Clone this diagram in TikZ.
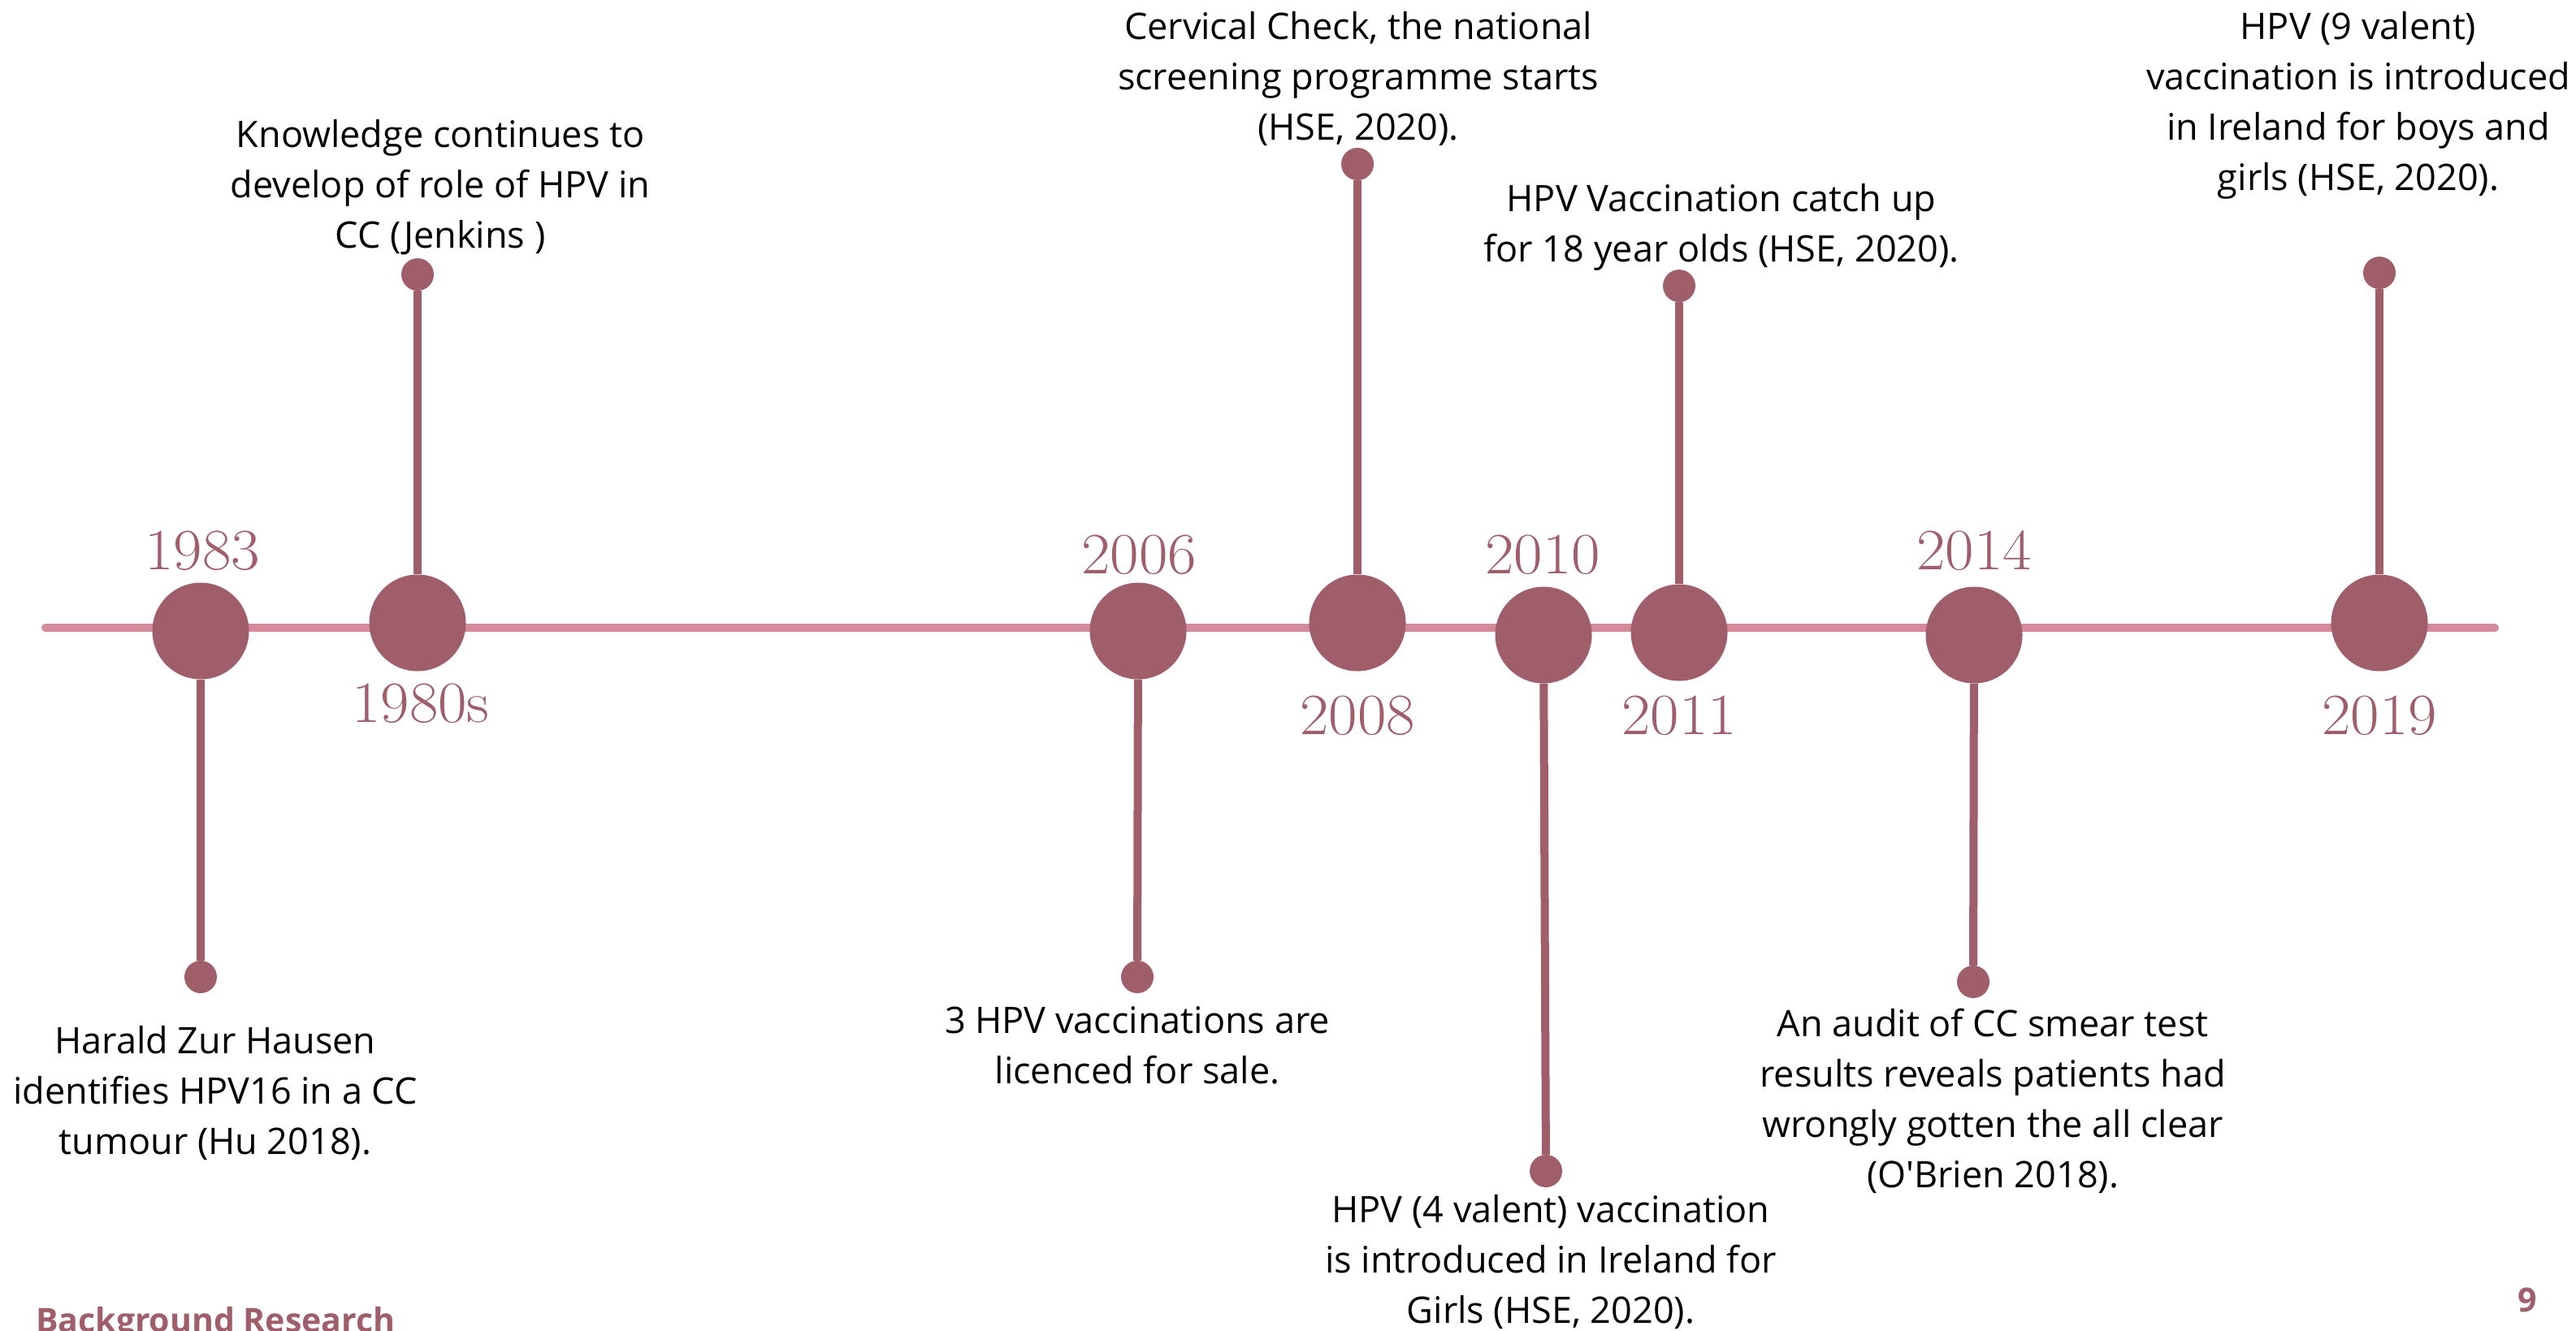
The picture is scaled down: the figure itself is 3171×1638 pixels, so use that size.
\documentclass[tikz,border=0pt]{standalone}
\usepackage{fontspec}
\usepackage{graphicx}
\setsansfont{Open Sans}
\definecolor{axis}{HTML}{D48A9A}
\definecolor{plum}{HTML}{A05E6B}
\newcommand{\yr}[1]{\scalebox{1.07}[1]{#1}}
\begin{document}
\begin{tikzpicture}[x=1pt,y=-1pt,
  axisline/.style={draw=axis,line width=10pt,line cap=round},
  stem/.style={draw=plum,line width=10pt},
  bigdot/.style={circle,fill=plum,minimum size=119pt,inner sep=0pt},
  tipdot/.style={circle,fill=plum,minimum size=40pt,inner sep=0pt},
  year/.style={anchor=base,inner sep=0pt,text=plum,font=\rmfamily\fontsize{72}{72}\selectfont},
  note/.style={anchor=base,inner sep=0pt,align=center,font=\sffamily\fontsize{45}{62}\selectfont},
  footer/.style={anchor=base,inner sep=0pt,text=plum,font=\sffamily\bfseries\fontsize{41}{41}\selectfont}]
\useasboundingbox[fill=white] (0,0) rectangle (3171,1638);

% timeline axis
\coordinate (L) at (56,773);
\coordinate (R) at (3071,773);
\draw[axisline] (L) -- (R);

% event markers on the axis
\node[bigdot] (c1983) at (247,777) {};
\node[bigdot] (c1980) at (514,767) {};
\node[bigdot] (c2006) at (1401,777) {};
\node[bigdot] (c2008) at (1671,767) {};
\node[bigdot] (c2010) at (1900,782) {};
\node[bigdot] (c2011) at (2067,779) {};
\node[bigdot] (c2014) at (2430,782) {};
\node[bigdot] (c2019) at (2929,767) {};

% end points of the stems
\node[tipdot] (d1983) at (247,1203) {};
\node[tipdot] (d1980) at (514,338) {};
\node[tipdot] (d2006) at (1400,1203) {};
\node[tipdot] (d2008) at (1671,202) {};
\node[tipdot] (d2010) at (1903,1442) {};
\node[tipdot] (d2011) at (2067,352) {};
\node[tipdot] (d2014) at (2429,1209) {};
\node[tipdot] (d2019) at (2929,336) {};

\draw[stem] (c1983) -- (d1983);
\draw[stem] (c1980) -- (d1980);
\draw[stem] (c2006) -- (d2006);
\draw[stem] (c2008) -- (d2008);
\draw[stem] (c2010) -- (d2010);
\draw[stem] (c2011) -- (d2011);
\draw[stem] (c2014) -- (d2014);
\draw[stem] (c2019) -- (d2019);

% year labels
\node[year] (y1983) at (249,701) {\yr{1983}};
\node[year] (y1980) at (518,889) {\yr{1980s}};
\node[year] (y2006) at (1402,706) {\yr{2006}};
\node[year] (y2008) at (1671,904) {\yr{2008}};
\node[year] (y2010) at (1899,706) {\yr{2010}};
\node[year] (y2011) at (2067,904) {\yr{2011}};
\node[year] (y2014) at (2430,701) {\yr{2014}};
\node[year] (y2019) at (2929,904) {\yr{2019}};

% event descriptions (anchored on the baseline of their last line)
\node[note] (t1983) at (265,1421) {Harald Zur Hausen\\identifies HPV16 in a CC\\tumour (Hu 2018).};
\node[note] (t1980) at (542,305) {Knowledge continues to\\develop of role of HPV in\\CC (Jenkins )};
\node[note] (t2006) at (1400,1334) {3 HPV vaccinations are\\licenced for sale.};
\node[note] (t2008) at (1672,172) {Cervical Check, the national\\screening programme starts\\(HSE, 2020).};
\node[note] (t2010) at (1909,1629) {HPV (4 valent) vaccination\\is introduced in Ireland for\\Girls (HSE, 2020).};
\node[note] (t2011) at (2119,322) {HPV Vaccination catch up\\for 18 year olds (HSE, 2020).};
\node[note] (t2014) at (2453,1462) {An audit of CC smear test\\results reveals patients had\\wrongly gotten the all clear\\(O\textquotesingle Brien 2018).};
\node[note] (t2019) at (2903,234) {HPV (9 valent)\\vaccination is introduced\\in Ireland for boys and\\girls (HSE, 2020).};

% footer
\node[footer,anchor=base west] (foot) at (44,1640) {Background Research};
\node[footer] (page) at (3111,1615) {9};
\end{tikzpicture}
\end{document}
